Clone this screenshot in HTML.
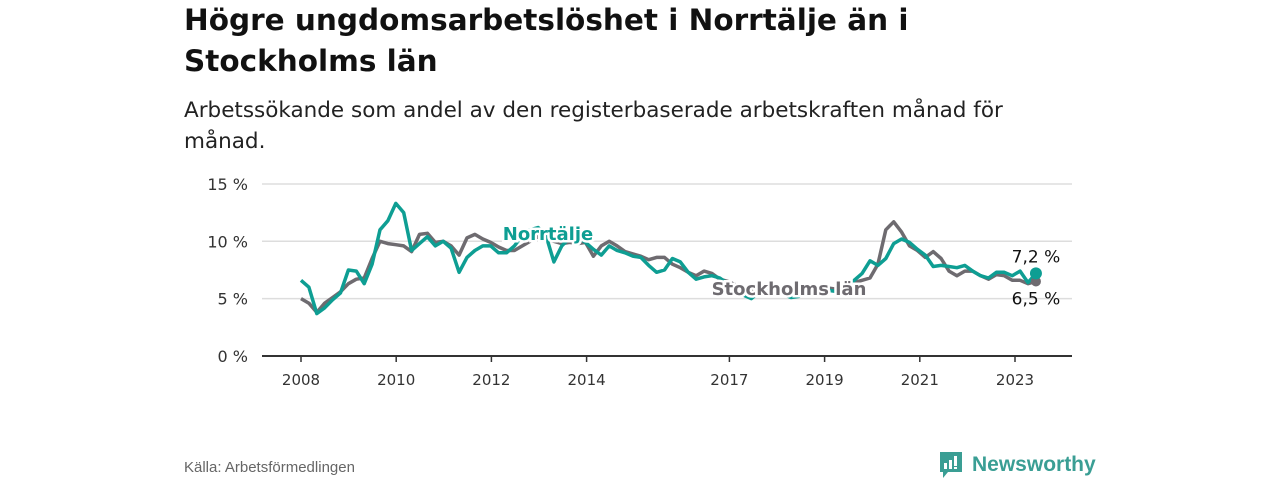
<!DOCTYPE html>
<html><head><meta charset="utf-8"><style>
body{margin:0;width:1280px;height:480px;background:#fff;font-family:"Liberation Sans",sans-serif;overflow:hidden;position:relative}
h1{position:absolute;left:184px;top:0px;margin:0;font-family:"DejaVu Sans",sans-serif;font-size:29.5px;line-height:41px;font-weight:bold;color:#111;width:780px}
.sub{position:absolute;left:184px;top:95px;font-family:"DejaVu Sans",sans-serif;font-size:21.5px;line-height:31px;color:#222;width:860px}
.src{position:absolute;left:184px;top:459px;font-size:15px;color:#666}
.logo{position:absolute;left:938px;top:450px;display:flex;align-items:center;gap:8px;color:#3a9e94;font-size:21px;font-weight:bold}
</style></head><body>
<h1>Högre ungdomsarbetslöshet i Norrtälje än i Stockholms län</h1>
<div class="sub">Arbetssökande som andel av den registerbaserade arbetskraften månad för månad.</div>
<svg id="chart" width="1280" height="480" style="position:absolute;left:0;top:0"></svg>
<div class="src">Källa: Arbetsförmedlingen</div>
<div class="logo"><svg width="26" height="30" viewBox="0 0 26 30"><path d="M2 2h22v20H10l-5 6v-6H2z" fill="#3a9e94"/><rect x="6" y="13" width="3" height="6" fill="#fff"/><rect x="11" y="10" width="3" height="9" fill="#fff"/><rect x="16" y="6" width="3" height="10" fill="#fff"/><rect x="16" y="17" width="3" height="2" fill="#fff"/></svg><span>Newsworthy</span></div>
<script>
const yTicks=[0,5,10,15];
const yTickLabels=["0 %","5 %","10 %","15 %"];
const xTicks=[2008,2010,2012,2014,2017,2019,2021,2023];
const norrtalje=[6.6,6.0,3.7,4.2,4.9,5.5,7.5,7.4,6.3,8.0,11.0,11.8,13.3,12.5,9.2,9.8,10.4,9.6,10.0,9.4,7.3,8.6,9.2,9.6,9.6,9.0,9.0,9.6,10.5,11.0,11.2,10.5,8.2,9.6,10.3,10.4,9.9,9.3,8.8,9.6,9.2,9.0,8.7,8.6,7.9,7.3,7.5,8.5,8.2,7.3,6.7,6.9,7.0,6.8,6.3,5.8,5.3,5.0,5.6,5.9,5.8,5.4,5.1,5.2,5.6,6.0,5.9,5.7,5.6,6.1,6.6,7.2,8.3,7.9,8.5,9.8,10.2,9.9,9.3,8.8,7.8,7.9,7.8,7.7,7.9,7.4,7.0,6.8,7.3,7.3,7.0,7.4,6.4,7.2];
const stockholm=[5.0,4.6,3.8,4.6,5.1,5.6,6.3,6.7,6.8,8.5,10.0,9.8,9.7,9.6,9.1,10.6,10.7,9.9,10.0,9.6,8.8,10.3,10.6,10.2,9.9,9.5,9.2,9.2,9.6,10.0,10.4,10.2,10.0,9.8,9.9,9.8,9.9,8.7,9.6,10.0,9.6,9.1,8.9,8.7,8.4,8.6,8.6,8.0,7.7,7.3,7.0,7.4,7.2,6.7,6.5,6.2,6.0,5.8,6.0,6.2,6.0,5.8,5.6,5.7,5.9,6.0,6.0,5.9,5.8,6.0,6.4,6.6,6.8,8.0,11.0,11.7,10.8,9.6,9.2,8.6,9.1,8.5,7.4,7.0,7.4,7.4,7.0,6.7,7.1,7.0,6.6,6.6,6.3,6.5];
const startYear=2008, step=15.44/93;
const NS="http://www.w3.org/2000/svg",svg=document.getElementById('chart');
const X=t=>301+(t-2008)*47.6, Y=v=>356-v*11.47;
function mk(tag,at,txt){const e=document.createElementNS(NS,tag);for(const k in at)e.setAttribute(k,at[k]);if(txt!=null)e.textContent=txt;svg.appendChild(e);return e;}
yTicks.forEach((v,i)=>{
 const g=mk('line',{x1:262,x2:1072,y1:Y(v),y2:Y(v),stroke:v===0?'#333':'#ddd','stroke-width':v===0?2:1.5});
 
 
 const t=mk('text',{x:248,y:Y(v)+6,'text-anchor':'end','font-size':16,fill:'#333','font-family':'DejaVu Sans'},yTickLabels[i]);
 
 
});
xTicks.forEach(yr=>{
 const l=mk('line',{x1:X(yr),x2:X(yr),y1:356,y2:362,stroke:'#333','stroke-width':1.5});
 
 
 const t=mk('text',{x:X(yr),y:385,'text-anchor':'middle','font-size':15,fill:'#333','font-family':'DejaVu Sans'},String(yr));
 
 
});
function pts(a){return a.map((v,i)=>X(startYear+i*step).toFixed(1)+','+Y(v).toFixed(1)).join(' ');}
const ls=mk('polyline',{points:pts(stockholm),fill:'none',stroke:'#6e6b70','stroke-width':3.5,'stroke-linejoin':'round'});


const ln=mk('polyline',{points:pts(norrtalje),fill:'none',stroke:'#0e9e93','stroke-width':3.5,'stroke-linejoin':'round'});


const last=norrtalje.length-1, lx=X(startYear+last*step);
const ds=mk('circle',{cx:lx,cy:Y(stockholm[last]),r:5,fill:'#6e6b70'});


const dn=mk('circle',{cx:lx,cy:Y(norrtalje[last]),r:6,fill:'#0e9e93'});


const vn=mk('text',{x:lx,y:Y(norrtalje[last])-11,'text-anchor':'middle','font-size':17,fill:'#111','font-family':'DejaVu Sans'},norrtalje[last].toFixed(1).replace('.',',')+' %');


const vs=mk('text',{x:lx,y:Y(stockholm[last])+23,'text-anchor':'middle','font-size':17,fill:'#111','font-family':'DejaVu Sans'},stockholm[last].toFixed(1).replace('.',',')+' %');


const sl=mk('text',{x:548,y:240,'text-anchor':'middle','font-size':18,'font-weight':'bold','font-family':'DejaVu Sans',fill:'#0e9e93',stroke:'#fff','stroke-width':5,'paint-order':'stroke'},'Norrtälje');


const gl=mk('text',{x:789,y:295,'text-anchor':'middle','font-size':18,'font-weight':'bold','font-family':'DejaVu Sans',fill:'#6e6b70',stroke:'#fff','stroke-width':5,'paint-order':'stroke'},'Stockholms län');


</script>
</body></html>
